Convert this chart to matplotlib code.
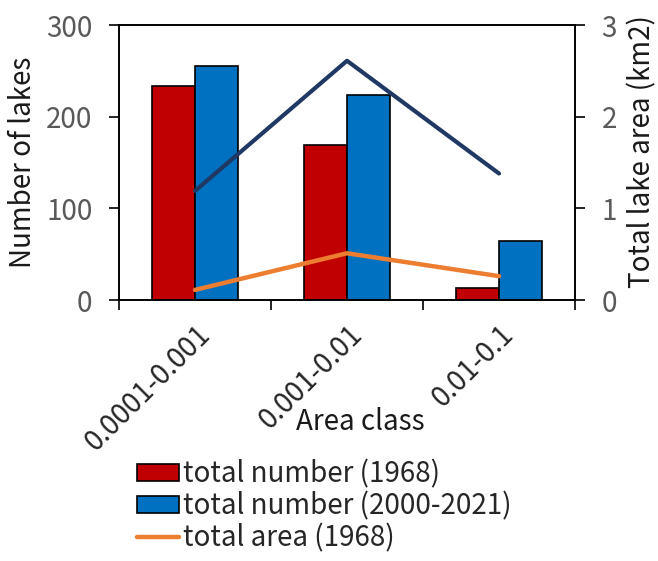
import matplotlib
matplotlib.use("Agg")
import matplotlib.pyplot as plt
import numpy as np

plt.rcParams['font.family'] = ['Noto Sans CJK JP', 'DejaVu Sans']

# datos
categorias = ['0.0001-0.001', '0.001-0.01', '0.01-0.1']
numero_1968 = [234, 169, 13]
numero_2000_2021 = [255, 224, 64]
area_1968 = [0.11, 0.51, 0.26]
area_2000_2021 = [1.19, 2.61, 1.38]

etiquetas = ['total number (1968)', 'total number (2000-2021)', 'total area (1968)']

rojo = '#C00000'
azul = '#0070C0'
naranja = '#ED7D31'
marino = '#203864'
gris = '#595959'
W, H = 658, 561

fig = plt.figure(figsize=(W / 100, H / 100), dpi=100)
ax = fig.add_axes([119 / W, 1 - 300 / H, 456 / W, 275 / H])
ax2 = ax.twinx()

x = np.arange(len(categorias))
ancho = 0.285
b1 = ax.bar(x - ancho / 2, numero_1968, ancho, color=rojo, edgecolor='black', linewidth=1.2)
b2 = ax.bar(x + ancho / 2, numero_2000_2021, ancho, color=azul, edgecolor='black', linewidth=1.2)

l1, = ax2.plot(x, area_1968, color=naranja, lw=3.2, solid_capstyle='round')
l2, = ax2.plot(x, area_2000_2021, color=marino, lw=3, solid_capstyle='round')

ax.set_xlim(-0.5, 2.5)
ax.set_ylim(0, 300)
ax2.set_ylim(0, 3)
ax.set_yticks([0, 100, 200, 300])
ax2.set_yticks([0, 1, 2, 3])
ax.set_xticks([-0.5, 0.5, 1.5, 2.5])
ax.set_xticklabels([])
ax.set_xticks(x, minor=True)
ax.set_xticklabels(categorias, minor=True, rotation=45, ha='right', rotation_mode='anchor',
                   fontsize=20, color='#262626')
ax.tick_params(axis='x', which='minor', length=0, pad=14)
ax.tick_params(axis='x', which='major', length=7, width=1.2, direction='out')
ax.tick_params(axis='y', length=7, width=1.2, labelsize=20, labelcolor=gris, pad=12)
ax2.tick_params(axis='y', length=7, width=1.2, labelsize=20, labelcolor=gris, pad=12)

for a in (ax, ax2):
    for s in a.spines.values():
        s.set_linewidth(1.2)

fig.text(23 / W, 1 - 162 / H, 'Number of lakes', fontsize=20, rotation=90,
         ha='center', va='center', color='#1a1a1a')
fig.text(642 / W, 1 - 152 / H, 'Total lake area (km2)', fontsize=20, rotation=90,
         ha='center', va='center', color='#1a1a1a')
fig.text(360 / W, 1 - 422 / H, 'Area class', fontsize=20, ha='center', va='center',
         color='#1a1a1a')

fig.legend([b1, b2, l1], etiquetas, loc='upper left', bbox_to_anchor=(137 / W, 1 - 459 / H),
           frameon=False, fontsize=20, handlelength=1.5, handleheight=0.55, handletextpad=0.15,
           labelspacing=0.08, borderpad=0, borderaxespad=0, labelcolor='#262626')

fig.savefig('out.png', dpi=100)
